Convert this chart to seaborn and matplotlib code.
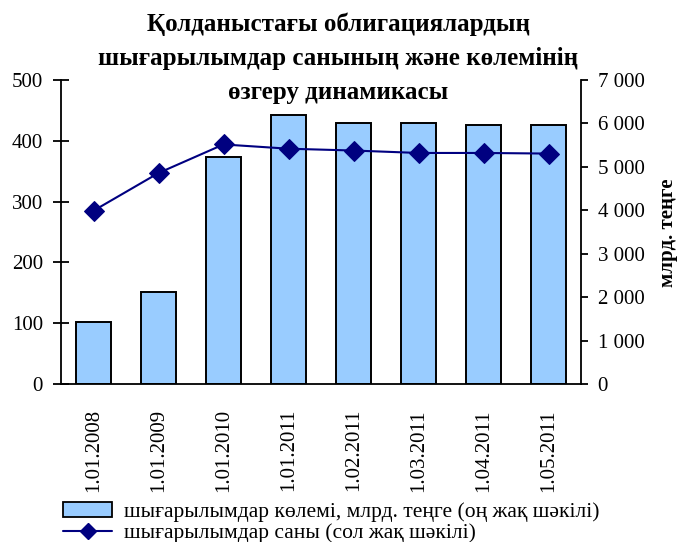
import matplotlib
matplotlib.use("Agg")
import matplotlib.pyplot as plt
import seaborn as sns
import pandas as pd
import numpy as np
from matplotlib.ticker import FuncFormatter, FixedLocator
from matplotlib.patches import Patch
from matplotlib.lines import Line2D

dates = ["1.01.2008", "1.01.2009", "1.01.2010", "1.01.2011",
         "1.02.2011", "1.03.2011", "1.04.2011", "1.05.2011"]
volume = [1430, 2120, 5230, 6200, 6000, 6000, 5960, 5960]   # bn tenge (right axis)
count = [285, 347, 394, 387, 384, 380, 380, 379]            # number of issues (left axis)

title = "Қолданыстағы облигациялардың\nшығарылымдар санының және көлемінің\nөзгеру динамикасы"
vol_label = "шығарылымдар көлемі, млрд. теңге (оң жақ шәкілі)"
cnt_label = "шығарылымдар саны (сол жақ шәкілі)"
right_ylabel = "млрд. теңге"

sns.set_theme(style="white")
plt.rcParams['font.family'] = ['Liberation Serif', 'DejaVu Serif']
plt.rcParams['text.color'] = 'black'
plt.rcParams['xtick.color'] = 'black'
plt.rcParams['ytick.color'] = 'black'

df = pd.DataFrame({"date": dates, "volume": volume, "count": count})

fig = plt.figure(figsize=(6.77, 5.42), dpi=100)
ax = fig.add_axes([61/677, 1-384/542, (581-61)/677, (384-80)/542])
ax2 = ax.twinx()

sns.barplot(data=df, x="date", y="volume", ax=ax2, color="#99CCFF",
            edgecolor="black", linewidth=1.4, width=0.53, saturation=1)
sns.lineplot(data=df, x="date", y="count", ax=ax, color="#000080",
             marker="D", markersize=10, markeredgecolor="#000080", linewidth=1.5)

ax.set_zorder(ax2.get_zorder() + 1)
ax.patch.set_visible(False)

ax.set_ylim(0, 500)
ax2.set_ylim(0, 7000)
ax.set_xlim(-0.5, 7.5)

ax.set_yticks([0, 100, 200, 300, 400, 500])
ax2.set_yticks(range(0, 7001, 1000))
ax2.yaxis.set_major_formatter(FuncFormatter(lambda v, p: f"{int(v):,}".replace(",", " ")))

for a in (ax, ax2):
    a.set_ylabel("")
    a.spines['top'].set_visible(False)
    for s in ['left', 'right', 'bottom']:
        a.spines[s].set_color("black")
        a.spines[s].set_linewidth(1.3)

ax.spines['right'].set_visible(False)
ax2.spines['left'].set_visible(False)
ax2.spines['bottom'].set_visible(False)

ax.tick_params(axis='y', direction='inout', length=11, width=1.3, labelsize=15, pad=7.5, colors="black")
ax2.tick_params(axis='y', direction='out', length=5, width=1.3, labelsize=15, pad=7, colors="black")

ax.set_xticks(range(8))
ax.set_xticklabels(dates, rotation=90, fontsize=15)
ax.set_xlabel("")
ax2.set_xlabel("")
ax.tick_params(axis='x', which='major', length=0, pad=18, colors="black")
ax.xaxis.set_minor_locator(FixedLocator(np.arange(-0.5, 8, 1)))
ax.tick_params(axis='x', which='minor', direction='inout', length=10, width=1.3, colors="black")

fig.text(0.5, 1-12/542, title, ha='center', va='top', fontsize=18,
         fontweight='bold', linespacing=1.62, color='black')
fig.text(668/677, 1-233/542, right_ylabel, rotation=90, ha='center', va='center',
         fontsize=15, fontweight='bold', color='black')

handles = [Patch(facecolor="#99CCFF", edgecolor="black", linewidth=1.3),
           Line2D([0], [0], color="#000080", marker="D", markersize=8, linewidth=1.5)]
leg = fig.legend(handles, [vol_label, cnt_label], loc='lower left',
           bbox_to_anchor=(52/677, -0.022), frameon=False, fontsize=15.5,
           handlelength=2.3, handletextpad=0.55, labelspacing=0.05, borderaxespad=0.1)
for t in leg.get_texts():
    t.set_color('black')

fig.savefig("out.png", dpi=100)
